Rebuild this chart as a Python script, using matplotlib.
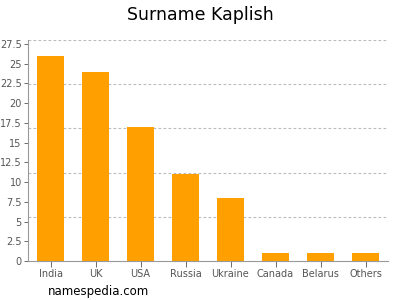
import matplotlib
matplotlib.use("Agg")
import matplotlib.pyplot as plt
import numpy as np

categories = ["India", "UK", "USA", "Russia", "Ukraine", "Canada", "Belarus", "Others"]
values = [26, 24, 17, 11, 8, 1, 1, 1]
yticks = [0, 2.5, 5, 7.5, 10, 12.5, 15, 17.5, 20, 22.5, 25, 27.5]
ytick_labels = ["0", "2.5", "5", "7.5", "10", "12.5", "15", "17.5", "20", "22.5", "25", "27.5"]

fig = plt.figure(figsize=(4, 3), dpi=100)
ax = fig.add_axes([0.07, 0.13, 0.90, 0.7367])

x = np.arange(len(categories))
ax.bar(x, values, width=0.62, color="#FFA000", zorder=2)

ymax = 28
for g in np.linspace(0, ymax, 6)[1:]:
    ax.axhline(g, color="#bbbbbb", linestyle=(0, (2.5, 2)), linewidth=0.8, zorder=1)

ax.set_ylim(0, ymax)
ax.set_xlim(-0.5, len(categories) - 0.5)
ax.set_yticks(yticks)
ax.set_yticklabels(ytick_labels)
ax.set_xticks(x)
ax.set_xticklabels(categories)
ax.tick_params(axis="both", labelsize=7, colors="#555555", length=3, width=0.6, pad=1.5)
ax.tick_params(axis="x", length=4, pad=2)
for s in ["top", "right"]:
    ax.spines[s].set_visible(False)
for s in ["left", "bottom"]:
    ax.spines[s].set_color("#999999")
    ax.spines[s].set_linewidth(0.8)

fig.text(0.5, 0.95, "Surname Kaplish", ha="center", va="center", fontsize=12.5, color="#000000")
fig.text(0.12, 0.03, "namespedia.com", ha="left", va="center", fontsize=8.5, color="#000000")

fig.savefig("out.png", dpi=100)
